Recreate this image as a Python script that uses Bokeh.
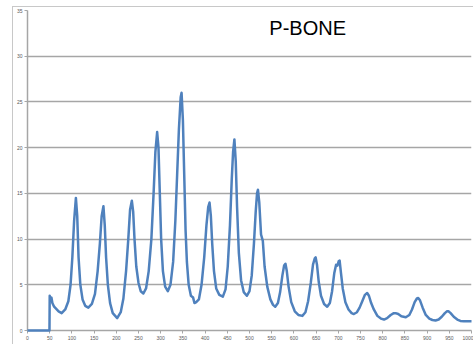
from bokeh.plotting import figure
from bokeh.models import Label, FixedTicker, Range1d
from bokeh.embed import file_html
from bokeh.resources import INLINE

title_text = "P-BONE"
x_ticks = list(range(0, 1001, 50))
y_ticks = list(range(0, 36, 5))

xs = [0, 20, 49.5, 50, 52, 54, 56, 60, 70, 77, 85, 92, 97, 101, 105, 109, 112, 115, 119, 124, 130,
      137, 145, 152, 158, 163, 167, 171, 174, 177, 181, 186, 192, 202, 210, 216, 222, 227, 231,
      235, 238, 241, 245, 250, 255, 261, 267, 273, 279, 284, 288, 292, 295, 298, 301, 305, 310,
      316, 322, 328, 333, 337, 341, 345, 347, 350, 353, 356, 359, 363, 368, 373, 376, 380, 386,
      392, 398, 403, 407, 410, 413, 416, 420, 425, 432, 440, 446, 451, 456, 460, 463, 466, 469,
      472, 476, 481, 487, 494, 500, 505, 510, 514, 517, 519, 522, 526, 530, 534, 540, 547, 553,
      558, 564, 569, 574, 578, 581, 584, 588, 594, 602, 610, 619, 626, 632, 638, 643, 647, 649,
      652, 656, 661, 668, 675, 681, 686, 691, 695, 698, 701, 703, 706, 710, 716, 723, 730, 735,
      742, 748, 754, 760, 765, 769, 774, 780, 788, 796, 803, 810, 818, 825, 829, 835, 842, 852,
      860, 866, 872, 877, 880, 884, 890, 897, 905, 912, 919, 926, 933, 940, 945, 948, 953, 960,
      968, 975, 983, 1000]
ys = [0, 0, 0, 3.8, 3.3, 3.6, 3.0, 2.6, 2.1, 1.9, 2.3, 3.2, 5.0, 8.0, 12.0, 14.5, 12.5, 8.0, 5.0, 3.4, 2.7,
      2.5, 2.9, 4.0, 6.5, 9.5, 12.5, 13.6, 11.5, 8.0, 5.0, 3.0, 1.9, 1.35, 2.0, 3.5, 6.5, 10.0, 13.2,
      14.2, 13.0, 10.0, 7.0, 5.2, 4.3, 4.05, 4.6, 6.5, 10.0, 15.0, 19.5, 21.7, 20.0, 15.0, 10.0, 6.5, 4.8,
      4.3, 5.0, 7.5, 12.0, 17.0, 22.0, 25.5, 26.0, 23.0, 17.0, 11.0, 7.5, 5.0, 3.8, 3.6, 3.0, 3.1, 3.4,
      5.0, 8.0, 11.5, 13.5, 14.0, 12.5, 9.5, 6.5, 4.6, 3.9, 3.7, 4.5, 7.0, 11.5, 16.5, 19.5, 20.9, 18.5,
      13.5, 8.5, 5.5, 4.2, 3.8, 4.3, 6.0, 9.5, 13.0, 15.0, 15.4, 14.0, 10.5, 9.8, 7.0, 4.8, 3.4, 2.8,
      2.6, 3.0, 4.2, 6.0, 7.1, 7.3, 6.5, 4.8, 3.1, 2.1, 1.7, 1.6, 2.0, 3.2, 5.2, 7.2, 7.9, 8.0,
      7.2, 5.3, 3.8, 2.9, 2.6, 3.0, 4.3, 6.3, 7.2, 7.1, 7.6, 7.65, 6.3, 4.6, 3.1, 2.3, 1.9, 1.8,
      2.0, 2.5, 3.2, 3.9, 4.1, 3.8, 3.0, 2.3, 1.6, 1.3, 1.2, 1.35, 1.7, 1.9, 1.9, 1.8, 1.55, 1.45,
      1.7, 2.3, 3.1, 3.5, 3.55, 3.3, 2.5, 1.7, 1.3, 1.15, 1.1, 1.2, 1.5, 1.9, 2.1, 2.1, 1.9, 1.5,
      1.2, 1.05, 1.0, 1.0]

p = figure(width=461, height=338, output_backend="svg", toolbar_location=None,
           x_range=Range1d(0, 1000), y_range=Range1d(0, 35),
           min_border_left=13, min_border_right=3, min_border_top=3, min_border_bottom=15)
p.styles = {"margin-left": "12px", "margin-top": "6px",
            "border-left": "1px solid #c8c8c8", "border-top": "1px solid #c8c8c8"}

p.line(xs, ys, line_color="#4f81bd", line_width=2.5, line_join="round", level="overlay")

p.outline_line_color = None
p.background_fill_color = "white"
p.border_fill_color = "white"

p.xgrid.visible = False
p.ygrid.ticker = FixedTicker(ticks=y_ticks)
p.ygrid.grid_line_color = "#a6a6a6"
p.ygrid.grid_line_width = 1.5

p.xaxis.ticker = FixedTicker(ticks=x_ticks)
p.yaxis.ticker = FixedTicker(ticks=y_ticks)
for ax in (p.xaxis[0], p.yaxis[0]):
    ax.axis_line_color = "#a6a6a6"
    ax.axis_line_width = 1.5
    ax.major_tick_line_color = "#a6a6a6"
    ax.minor_tick_line_color = None
    ax.major_tick_in = 0
    ax.major_tick_out = 3
    ax.major_label_text_font = "Liberation Sans"
    ax.major_label_text_font_size = "5px"
    ax.major_label_text_color = "#595959"
    ax.major_label_standoff = 2

p.add_layout(Label(x=631, y=33.1, text=title_text, text_align="center",
                   text_baseline="alphabetic", text_font="Liberation Sans",
                   text_font_size="20px", text_color="black"))

open("out.html", "w").write(file_html(p, INLINE))
